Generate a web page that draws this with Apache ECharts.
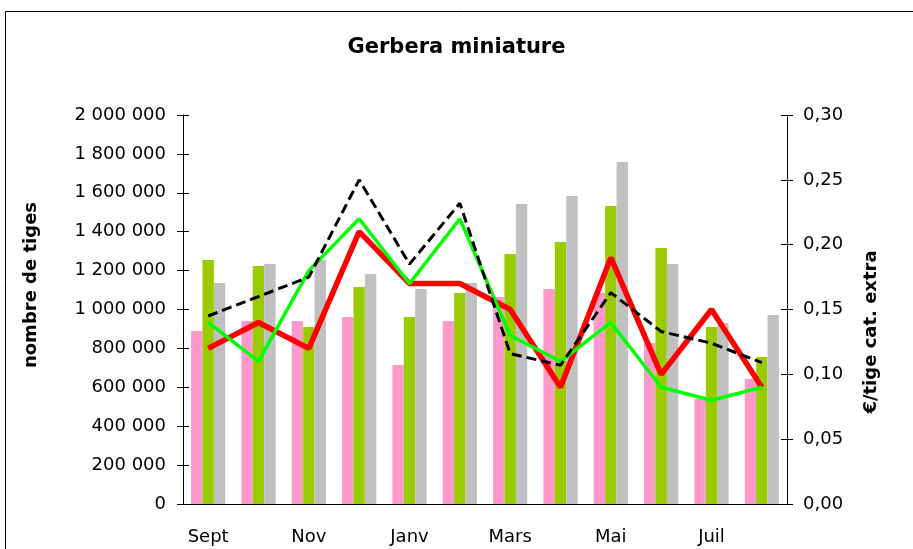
<!DOCTYPE html>
<html>
<head>
<meta charset="utf-8">
<script src="https://cdn.jsdelivr.net/npm/echarts@6/dist/echarts.min.js"></script>
<style>
html,body{margin:0;padding:0;background:#fff;}
#chart{width:913px;height:549px;}
</style>
</head>
<body>
<div id="chart"></div>
<script>
const months = ['Sept','Oct','Nov','Déc','Janv','Févr','Mars','Avr','Mai','Juin','Juil','Août'];
const stemsA = [889000, 941000, 941000, 961000, 715000, 941000, 1064000, 1105000, 1085000, 828000, 540000, 643000];
const stemsB = [1254000, 1224000, 910000, 1116000, 961000, 1085000, 1285000, 1347000, 1532000, 1316000, 910000, 756000];
const stemsC = [1136000, 1234000, 1254000, 1182000, 1105000, 1136000, 1542000, 1583000, 1758000, 1234000, 930000, 972000];
const priceRed = [0.12, 0.14, 0.12, 0.21, 0.17, 0.17, 0.15, 0.09, 0.19, 0.10, 0.15, 0.09];
const priceGreen = [0.14, 0.11, 0.18, 0.22, 0.17, 0.22, 0.13, 0.11, 0.14, 0.09, 0.08, 0.09];
const priceBlack = [0.145, 0.16, 0.175, 0.25, 0.185, 0.232, 0.116, 0.107, 0.163, 0.133, 0.124, 0.109];

const FONT = 'DejaVu Sans';
const chart = echarts.init(document.getElementById('chart'), null, {renderer:'canvas'});
function fmtThousands(v){
  return String(Math.round(v)).replace(/\B(?=(\d{3})+(?!\d))/g, ' ');
}
const tickAxisBase = {
  axisLine:{show:false}, axisLabel:{show:false}, splitLine:{show:false},
  axisTick:{show:true, inside:true, length:6, lineStyle:{color:'#000', width:1}}
};
chart.setOption({
  animation:false,
  backgroundColor:'#fff',
  title:{
    text:'Gerbera miniature', left:'center', top:32,
    textStyle:{fontFamily:FONT, fontSize:21, fontWeight:'bold', color:'#000'}
  },
  graphic:[{
    type:'rect', shape:{x:5.5, y:11.5, width:1000, height:1000},
    style:{fill:'none', stroke:'#000', lineWidth:1}, silent:true, z:-10
  }],
  grid:{left:183, right:126, top:115, bottom:45, containLabel:false},
  xAxis:{
    type:'category', data:months,
    axisLine:{show:true, lineStyle:{color:'#000', width:1}},
    axisTick:{show:false},
    axisLabel:{interval:1, margin:24, fontFamily:FONT, fontSize:18, color:'#000'},
    splitLine:{show:false}
  },
  yAxis:[{
    type:'value', min:0, max:2000000, interval:200000, position:'left',
    name:'nombre de tiges', nameLocation:'middle', nameGap:143, nameRotate:90,
    nameTextStyle:{fontFamily:FONT, fontSize:18, fontWeight:'bold', color:'#000', padding:[0,0,0,49]},
    axisLine:{show:true, lineStyle:{color:'#000', width:1}},
    axisTick:{show:true, length:6, lineStyle:{color:'#000', width:1}},
    axisLabel:{margin:17, fontFamily:FONT, fontSize:18, color:'#000', formatter:fmtThousands},
    splitLine:{show:false}
  },{
    type:'value', min:0, max:0.30, interval:0.05, position:'right',
    name:'€/tige cat. extra', nameLocation:'middle', nameGap:75, nameRotate:90,
    nameTextStyle:{fontFamily:FONT, fontSize:18, fontWeight:'bold', color:'#000', padding:[0,45,0,0]},
    axisLine:{show:true, lineStyle:{color:'#000', width:1}},
    axisTick:{show:true, length:6, lineStyle:{color:'#000', width:1}},
    axisLabel:{margin:16, fontFamily:FONT, fontSize:18, color:'#000',
      formatter:function(v){return v.toFixed(2).replace('.', ',');}},
    splitLine:{show:false}
  },
  Object.assign({type:'value', min:0, max:2000000, interval:200000, position:'left'}, tickAxisBase),
  Object.assign({type:'value', min:0, max:0.30, interval:0.05, position:'right'}, tickAxisBase)
  ],
  series:[
    {name:'tiges A', type:'bar', yAxisIndex:0, data:stemsA, barGap:'0%', barCategoryGap:'32%',
      itemStyle:{color:'#FF99CC'}},
    {name:'tiges B', type:'bar', yAxisIndex:0, data:stemsB, barGap:'0%', barCategoryGap:'32%',
      itemStyle:{color:'#99CC00'}},
    {name:'tiges C', type:'bar', yAxisIndex:0, data:stemsC, barGap:'0%', barCategoryGap:'32%',
      itemStyle:{color:'#C0C0C0'}},
    {name:'prix rouge', type:'line', yAxisIndex:1, data:priceRed, showSymbol:false, symbol:'none',
      lineStyle:{color:'#FF0000', width:5.5}, z:3},
    {name:'prix vert', type:'line', yAxisIndex:1, data:priceGreen, showSymbol:false, symbol:'none',
      lineStyle:{color:'#00FF00', width:3.5}, z:3},
    {name:'prix noir', type:'line', yAxisIndex:1, data:priceBlack, showSymbol:false, symbol:'none',
      lineStyle:{color:'#000000', width:3, type:[10,5]}, z:3}
  ]
});
</script>
</body>
</html>
